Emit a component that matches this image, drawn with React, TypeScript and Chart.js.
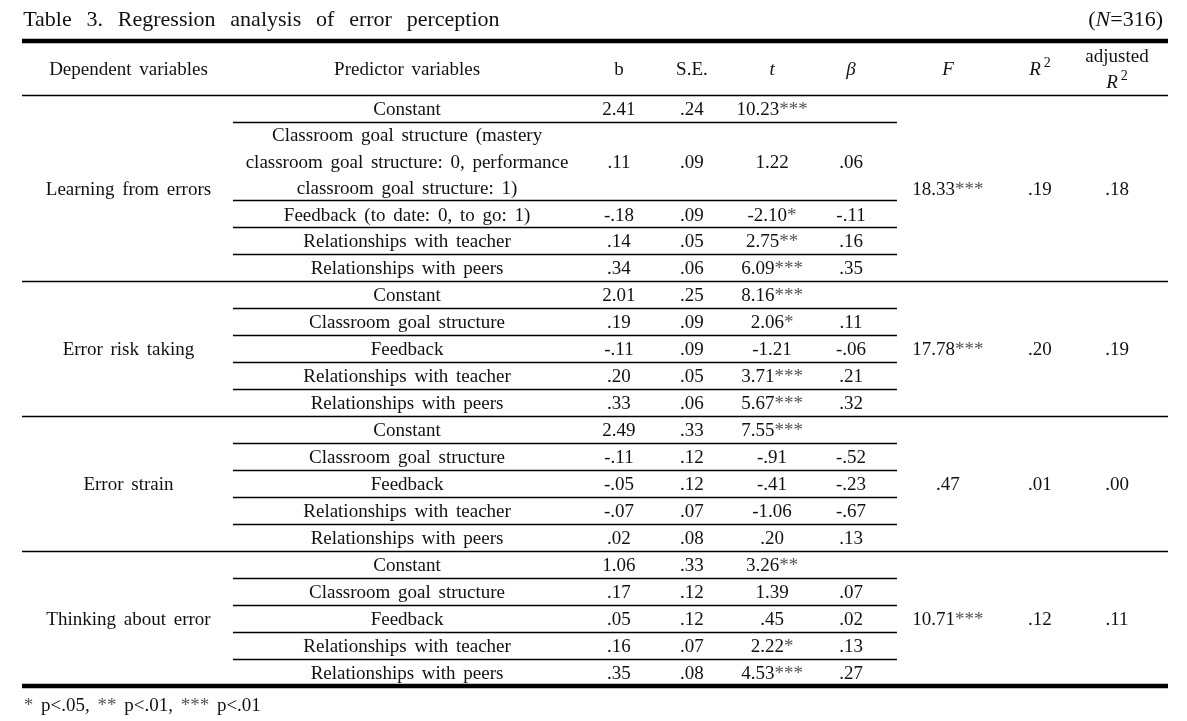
import React, { useEffect, useRef } from "react";
import { Chart, registerables } from "chart.js";

Chart.register(...registerables);

// ---------- data ----------
const titleText = "Table 3. Regression analysis of error perception";
const sampleNote = "(~N~=316)";
const footnoteText = "* p<.05, ** p<.01, *** p<.01";
const headers = [
  "Dependent variables",
  "Predictor variables",
  "b",
  "S.E.",
  "~t~",
  "~β~",
  "~F~",
  "~R~^2",
  "adjusted\n~R~^2",
];
const dependentVars = [
  "Learning from errors",
  "Error risk taking",
  "Error strain",
  "Thinking about error",
];
const predictorsFirst = [
  "Constant",
  "Classroom goal structure (mastery\nclassroom goal structure: 0, performance\nclassroom goal structure: 1)",
  "Feedback (to date: 0, to go: 1)",
  "Relationships with teacher",
  "Relationships with peers",
];
const predictorsOther = [
  "Constant",
  "Classroom goal structure",
  "Feedback",
  "Relationships with teacher",
  "Relationships with peers",
];
const bValues = [
  ["2.41", ".11", "-.18", ".14", ".34"],
  ["2.01", ".19", "-.11", ".20", ".33"],
  ["2.49", "-.11", "-.05", "-.07", ".02"],
  ["1.06", ".17", ".05", ".16", ".35"],
];
const seValues = [
  [".24", ".09", ".09", ".05", ".06"],
  [".25", ".09", ".09", ".05", ".06"],
  [".33", ".12", ".12", ".07", ".08"],
  [".33", ".12", ".12", ".07", ".08"],
];
const tValues = [
  ["10.23***", "1.22", "-2.10*", "2.75**", "6.09***"],
  ["8.16***", "2.06*", "-1.21", "3.71***", "5.67***"],
  ["7.55***", "-.91", "-.41", "-1.06", ".20"],
  ["3.26**", "1.39", ".45", "2.22*", "4.53***"],
];
const betaValues = [
  ["", ".06", "-.11", ".16", ".35"],
  ["", ".11", "-.06", ".21", ".32"],
  ["", "-.52", "-.23", "-.67", ".13"],
  ["", ".07", ".02", ".13", ".27"],
];
const fValues = ["18.33***", "17.78***", ".47", "10.71***"];
const r2Values = [".19", ".20", ".01", ".12"];
const adjR2Values = [".18", ".19", ".00", ".11"];

// ---------- layout ----------
const W = 1187;
const H = 721;
const FONT = "'Liberation Serif', 'Times New Roman', serif";
const COL_X = [9.29, 33.6, 52.09, 58.46, 65.45, 72.34, 80.8, 88.83, 95.55];
const INNER_FROM = 18.41;
const INNER_TO = 76.35;
const HEADER_SPAN = 2;
const ROW_SPANS_FIRST = [1, 2.9, 1, 1, 1];
const ROW_SPANS_OTHER = [1, 1, 1, 1, 1];
const TITLE_Y = -0.54;
const FOOT_Y = 24.82;
const BODY_SIZE = 19;
const TITLE_SIZE = 22;
const MIDDLE_SHIFT = 1.8;

type Item = {
  x: number;
  y: number;
  text: string;
  size: number;
  align: "left" | "center" | "right";
  base: "middle" | "alphabetic";
  gap: number;
};
type Rule = { y: number; from: number; to: number; w: number };

function buildTable() {
  const items: Item[] = [];
  const rules: Rule[] = [];
  const cell = (x: number, y: number, text: string) => {
    if (text) items.push({ x, y, text, size: BODY_SIZE, align: "center", base: "middle", gap: 3 });
  };
  items.push({ x: 0.1, y: TITLE_Y, text: titleText, size: TITLE_SIZE, align: "left", base: "alphabetic", gap: 9.3 });
  items.push({ x: 99.56, y: TITLE_Y, text: sampleNote, size: TITLE_SIZE, align: "right", base: "alphabetic", gap: 0 });
  headers.forEach((h, i) => cell(COL_X[i], HEADER_SPAN / 2, h));
  rules.push({ y: 0, from: 0, to: 100, w: 4.5 });
  rules.push({ y: HEADER_SPAN, from: 0, to: 100, w: 1.3 });
  let cursor = HEADER_SPAN;
  dependentVars.forEach((dep, g) => {
    const spans = g === 0 ? ROW_SPANS_FIRST : ROW_SPANS_OTHER;
    const preds = g === 0 ? predictorsFirst : predictorsOther;
    const start = cursor;
    spans.forEach((span, r) => {
      if (r > 0) rules.push({ y: cursor, from: INNER_FROM, to: INNER_TO, w: 1.3 });
      const cy = cursor + span / 2;
      cell(COL_X[1], cy, preds[r]);
      cell(COL_X[2], cy, bValues[g][r]);
      cell(COL_X[3], cy, seValues[g][r]);
      cell(COL_X[4], cy, tValues[g][r]);
      cell(COL_X[5], cy, betaValues[g][r]);
      cursor += span;
    });
    const mid = (start + cursor) / 2;
    cell(COL_X[0], mid, dep);
    cell(COL_X[6], mid, fValues[g]);
    cell(COL_X[7], mid, r2Values[g]);
    cell(COL_X[8], mid, adjR2Values[g]);
    const last = g === dependentVars.length - 1;
    rules.push({ y: cursor, from: 0, to: 100, w: last ? 4.5 : 1.3 });
  });
  items.push({ x: 0.15, y: FOOT_Y, text: footnoteText, size: BODY_SIZE, align: "left", base: "alphabetic", gap: 3 });
  return { items, rules, total: cursor };
}

type Tok = { s: string; italic: boolean; sup: boolean; star: boolean; space: boolean };

function tokenize(line: string): Tok[] {
  const toks: Tok[] = [];
  let italic = false;
  let supNext = false;
  for (const ch of line) {
    if (ch === "~") { italic = !italic; continue; }
    if (ch === "^") { supNext = true; continue; }
    if (ch === " ") { toks.push({ s: " ", italic, sup: false, star: false, space: true }); continue; }
    const sup = supNext;
    supNext = false;
    const star = ch === "*";
    const prev = toks[toks.length - 1];
    if (prev && !prev.space && prev.italic === italic && prev.sup === sup && prev.star === star) prev.s += ch;
    else toks.push({ s: ch, italic, sup, star, space: false });
  }
  return toks;
}

function fontFor(t: Tok, size: number) {
  const sz = t.sup ? Math.round(size * 0.74) : size;
  return `${t.italic ? "italic " : ""}${sz}px ${FONT}`;
}

function drawRich(ctx: CanvasRenderingContext2D, it: Item, px: number, py: number) {
  const lines = it.text.split("\n");
  const lh = 26.5;
  const baseY = py + (it.base === "middle" ? MIDDLE_SHIFT : 0);
  lines.forEach((line, li) => {
    const ly = baseY + (li - (lines.length - 1) / 2) * lh;
    const toks = tokenize(line);
    const widths = toks.map((t) => {
      ctx.font = fontFor(t, it.size);
      return ctx.measureText(t.s).width + (t.space ? it.gap : 0) + (t.sup ? 3 : 0);
    });
    const total = widths.reduce((a, b) => a + b, 0);
    let sx = it.align === "center" ? px - total / 2 : it.align === "right" ? px - total : px;
    toks.forEach((t, i) => {
      if (!t.space) {
        ctx.font = fontFor(t, it.size);
        ctx.fillStyle = t.star ? "#555" : "#111";
        const yy = t.sup ? ly - it.size * 0.36 : ly;
        ctx.fillText(t.s, sx + (t.sup ? 3 : 0), yy);
      }
      sx += widths[i];
    });
  });
}

export default function App() {
  const ref = useRef<HTMLCanvasElement>(null);
  useEffect(() => {
    document.body.style.margin = "0";
    const { items, rules, total } = buildTable();
    const tablePlugin = {
      id: "tablePlugin",
      afterDatasetsDraw(chart: any) {
        const ctx: CanvasRenderingContext2D = chart.ctx;
        const xs = chart.scales.x;
        const ys = chart.scales.y;
        ctx.save();
        ctx.strokeStyle = "#000";
        rules.forEach((r) => {
          const y = ys.getPixelForValue(r.y);
          ctx.lineWidth = r.w;
          const yy = r.w < 2 ? Math.round(y) + 0.5 : y;
          ctx.beginPath();
          ctx.moveTo(xs.getPixelForValue(r.from), yy);
          ctx.lineTo(xs.getPixelForValue(r.to), yy);
          ctx.stroke();
        });
        const meta = chart.getDatasetMeta(0);
        meta.data.forEach((el: any, i: number) => {
          const it = items[i];
          ctx.textAlign = "left";
          ctx.textBaseline = it.base;
          drawRich(ctx, it, el.x, el.y);
        });
        ctx.restore();
      },
    };
    const chart = new Chart(ref.current as HTMLCanvasElement, {
      type: "scatter",
      data: {
        datasets: [
          {
            data: items.map((it) => ({ x: it.x, y: it.y })),
            pointRadius: 0,
            pointHoverRadius: 0,
          },
        ],
      },
      options: {
        animation: false,
        responsive: false,
        events: [],
        layout: { padding: { left: 22, right: W - 1168, top: 41, bottom: H - 686 } },
        plugins: { legend: { display: false }, tooltip: { enabled: false } },
        scales: {
          x: { type: "linear", min: 0, max: 100, display: false },
          y: { type: "linear", min: 0, max: total, reverse: true, display: false },
        },
      },
      plugins: [tablePlugin],
    } as any);
    return () => chart.destroy();
  }, []);
  return (
    <div style={{ width: W, height: H, background: "#fff" }}>
      <canvas ref={ref} width={W} height={H} style={{ display: "block" }} />
    </div>
  );
}
